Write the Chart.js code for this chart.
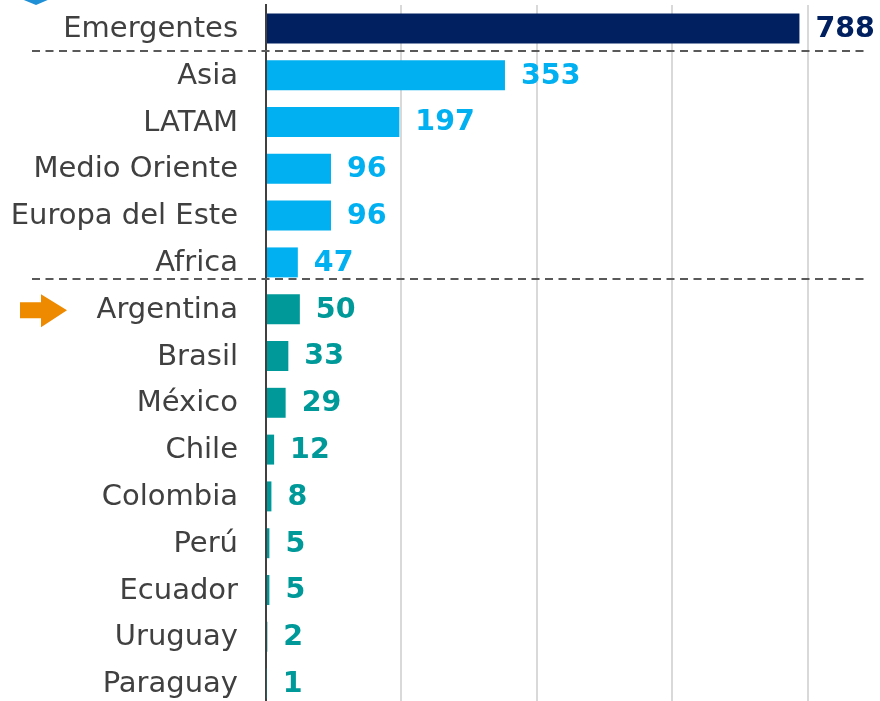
<!DOCTYPE html>
<html>
<head>
  <meta charset="UTF-8">
  <title>Emergentes</title>
  <script src="https://cdn.jsdelivr.net/npm/chart.js"></script>
  <style>
    html, body { margin: 0; padding: 0; background: #fff; overflow: hidden; }
    #wrap { width: 880px; height: 707px; }
  </style>
</head>
<body>
  <div id="wrap"><canvas id="myChart" width="880" height="707"></canvas></div>

  <script>
    const categories = ['Emergentes', 'Asia', 'LATAM', 'Medio Oriente', 'Europa del Este', 'Africa',
      'Argentina', 'Brasil', 'México', 'Chile', 'Colombia', 'Perú', 'Ecuador', 'Uruguay', 'Paraguay'];
    const values = [788, 353, 197, 96, 96, 47, 50, 33, 29, 12, 8, 5, 5, 2, 1];
    // grupo: 0 = total, 1 = regiones, 2 = países
    const groups = [0, 1, 1, 1, 1, 1, 2, 2, 2, 2, 2, 2, 2, 2, 2];
    const groupColors = ['#002060', '#00B0F0', '#009999'];
    const highlighted = 'Argentina';
    const sepShift = [-1, -7]; // los separadores no quedan justo en el medio

    const FONT = "'DejaVu Sans', Verdana, sans-serif";

    // etiquetas de valor, separadores punteados, flecha
    const extras = {
      id: 'extras',
      afterDatasetsDraw(chart) {
        const ctx = chart.ctx;
        const meta = chart.getDatasetMeta(0);
        const y = chart.scales.y;
        const area = chart.chartArea;

        ctx.save();
        ctx.font = 'bold 28.5px ' + FONT;
        ctx.textAlign = 'left';
        ctx.textBaseline = 'middle';
        meta.data.forEach((bar, i) => {
          ctx.fillStyle = groupColors[groups[i]];
          ctx.fillText(String(values[i]), bar.x + 16, bar.y + 1);
        });

        // separadores entre grupos
        ctx.strokeStyle = '#595959';
        ctx.lineWidth = 2;
        ctx.setLineDash([8, 5.5]);
        let k = 0;
        for (let i = 1; i < groups.length; i++) {
          if (groups[i] !== groups[i - 1]) {
            const mid = (y.getPixelForValue(i - 1) + y.getPixelForValue(i)) / 2;
            const yy = Math.round(mid + (sepShift[k++] || 0));
            ctx.beginPath();
            ctx.moveTo(32, yy);
            ctx.lineTo(area.right - 14, yy);
            ctx.stroke();
          }
        }
        ctx.setLineDash([]);

        // flecha naranja
        const ay = y.getPixelForValue(categories.indexOf(highlighted)) + 1;
        ctx.fillStyle = '#EE8A00';
        ctx.beginPath();
        ctx.moveTo(20, ay - 8);
        ctx.lineTo(41, ay - 8);
        ctx.lineTo(41, ay - 16);
        ctx.lineTo(67, ay);
        ctx.lineTo(41, ay + 17);
        ctx.lineTo(41, ay + 8);
        ctx.lineTo(20, ay + 8);
        ctx.closePath();
        ctx.fill();

        // marca azul recortada arriba
        ctx.fillStyle = '#1F8FD6';
        ctx.beginPath();
        ctx.moveTo(14, -4);
        ctx.lineTo(57, -4);
        ctx.lineTo(36, 5);
        ctx.closePath();
        ctx.fill();
        ctx.restore();
      }
    };

    const ctx = document.getElementById('myChart').getContext('2d');
    new Chart(ctx, {
      type: 'bar',
      data: {
        labels: categories,
        datasets: [{
          data: values,
          backgroundColor: groups.map(g => groupColors[g]),
          barPercentage: 0.64,
          categoryPercentage: 1
        }]
      },
      plugins: [extras],
      options: {
        indexAxis: 'y',
        responsive: false,
        animation: false,
        layout: { padding: { top: 5, right: 0, bottom: 0, left: 0 } },
        plugins: { legend: { display: false }, tooltip: { enabled: false } },
        scales: {
          x: {
            min: 0,
            max: 907,
            ticks: { display: false, stepSize: 200 },
            grid: {
              color: c => (c.tick && c.tick.value % 200 === 0) ? '#D9D9D9' : 'rgba(0,0,0,0)',
              lineWidth: 2,
              drawTicks: false
            },
            border: { display: false }
          },
          y: {
            afterFit: s => { s.width = 266; s.paddingTop = 0; s.paddingBottom = 0; },
            ticks: { color: '#404040', font: { family: FONT, size: 29 }, padding: 28, labelOffset: 1 },
            grid: { display: false, drawTicks: false },
            border: { display: true, color: '#404040', width: 2 }
          }
        }
      }
    });
  </script>
</body>
</html>
